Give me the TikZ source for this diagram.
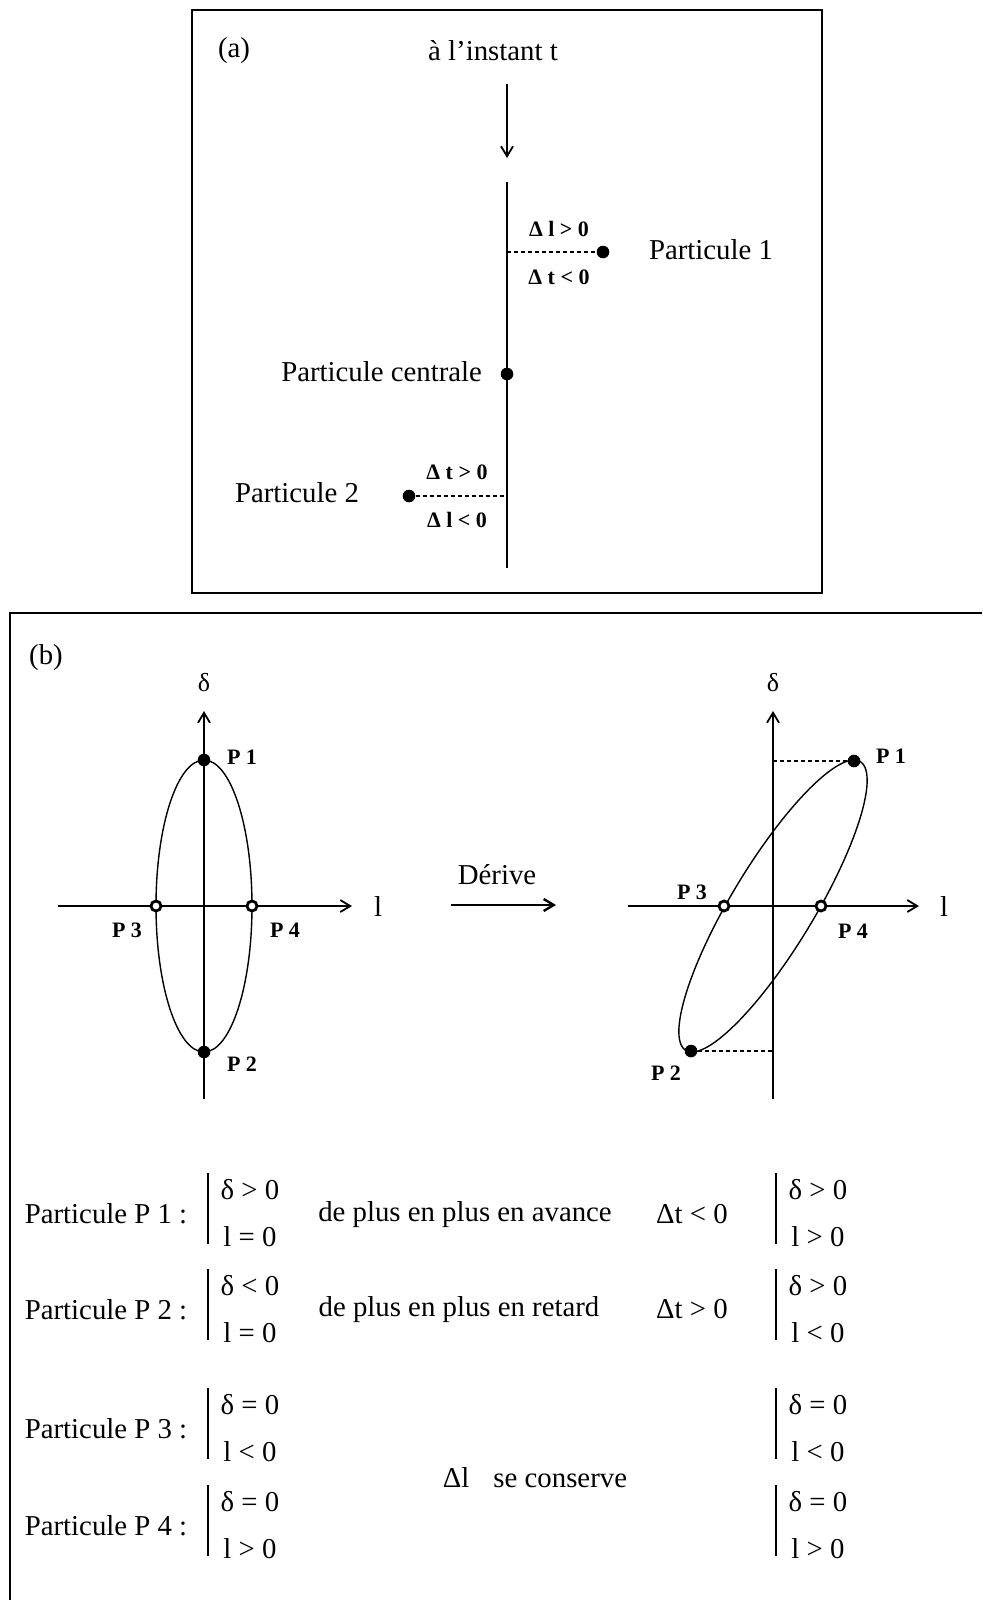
\documentclass[tikz,border=0pt]{standalone}
\usepackage{fontspec}
\setmainfont{Liberation Serif}
\usetikzlibrary{arrows.meta}

\begin{document}
\begin{tikzpicture}[x=0.5pt,y=-0.5pt, every node/.style={font=\fontsize{14.4}{17}\selectfont},
  lbl/.style={font=\fontsize{11}{13}\selectfont\bfseries},
  dot/.style={circle,fill=black,inner sep=0pt,minimum size=6.3pt},
  odot/.style={circle,draw=black,fill=white,line width=1.4pt,inner sep=0pt,minimum size=5pt},
  axe/.style={line width=0.9pt,-{Straight Barb[length=5pt,width=6pt]}},
  pointille/.style={dash pattern=on 2pt off 1.5pt,line width=0.7pt},
  barre/.style={line width=0.7pt}]
\useasboundingbox (0,0) rectangle (982,1600);

% (a) a l'instant t
\draw[line width=0.7pt] (192,10) rectangle (822,593);
\node (a) at (234,51) {(a)};
\node (instant) at (493,51) {à l'instant t};
\coordinate (ftop) at (507,84);
\coordinate (fbot) at (507,158);
\draw[axe] (ftop) -- (fbot);
\coordinate (ltop) at (507,182);
\coordinate (lbot) at (507,568);
\draw[line width=1pt] (ltop) -- (lbot);
\node[dot] (pc) at (507,374) {};
\node[anchor=east] (pcl) at (489,372) {Particule centrale};
\node[dot] (p1) at (603,252) {};
\draw[pointille] (p1 -| ltop) -- (p1);
\node[lbl] (dl1) at (559,229) {Δ l > 0};
\node[lbl] (dt1) at (559,277) {Δ t < 0};
\node (p1l) at (711,250) {Particule 1};
\node[dot] (p2) at (409,496) {};
\draw[pointille] (p2) -- (p2 -| ltop);
\node[lbl] (dt2) at (457,472) {Δ t > 0};
\node[lbl] (dl2) at (457,520) {Δ l < 0};
\node (p2l) at (297,493) {Particule 2};

% (b) ellipses
\draw[line width=0.7pt] (982,613) -- (10,613) -- (10,1600);
\node (b) at (46,658) {(b)};

% avant
\coordinate (o1) at (204,906);
\coordinate (v1b) at (204,1099);
\coordinate (v1t) at (204,711);
\coordinate (h1l) at (58,906);
\coordinate (h1r) at (352,906);
\draw[axe] (v1b) -- (v1t);
\draw[axe] (h1l) -- (h1r);
\node[font=\fontsize{13}{15}\selectfont] (d1) at (204,683) {δ};
\node (l1) at (378,906) {l};
\draw[line width=0.7pt] (o1) ellipse (24pt and 73pt);
\node[dot] (p1g) at (204,760) {};
\node[dot] (p2g) at (204,1052) {};
\node[odot] (p3g) at (156,906) {};
\node[odot] (p4g) at (252,906) {};
\node[lbl] (p1gl) at (242,757) {P 1};
\node[lbl] (p2gl) at (242,1064) {P 2};
\node[lbl] (p3gl) at (127,930) {P 3};
\node[lbl] (p4gl) at (285,930) {P 4};

% derive
\node (derive) at (497,875) {Dérive};
\coordinate (dg) at (451,905);
\coordinate (dd) at (556,905);
\draw[axe,line width=1.2pt] (dg) -- (dd);

% apres
\coordinate (o2) at (773,906);
\coordinate (v2b) at (773,1099);
\coordinate (v2t) at (773,711);
\coordinate (h2l) at (628,906);
\coordinate (h2r) at (919,906);
\draw[axe] (v2b) -- (v2t);
\draw[axe] (h2l) -- (h2r);
\node[font=\fontsize{13}{15}\selectfont] (d2) at (773,683) {δ};
\node (l2) at (944,906) {l};
\draw[line width=0.7pt] plot[variable=\t,domain=0:360,samples=121]
  ({773+48*cos(\t)+81*sin(\t)},{906-146*sin(\t)});
\node[dot] (p1d) at (854,761) {};
\node[dot] (p2d) at (691,1051) {};
\node[odot] (p3d) at (724,906) {};
\node[odot] (p4d) at (821,906) {};
\draw[pointille] (p1d -| v2t) -- (p1d);
\draw[pointille] (p2d) -- (p2d -| v2t);
\node[lbl] (p1dl) at (891,756) {P 1};
\node[lbl] (p2dl) at (666,1073) {P 2};
\node[lbl] (p3dl) at (692,892) {P 3};
\node[lbl] (p4dl) at (853,931) {P 4};

% tableau
\foreach \n/\yy/\la/\lb/\ra/\rb in {1/1214/δ > 0/l = 0/δ > 0/l > 0,
    2/1310/δ < 0/l = 0/δ > 0/l < 0, 3/1429/δ = 0/l < 0/δ = 0/l < 0,
    4/1526/δ = 0/l > 0/δ = 0/l > 0}{
  \node (part\n) at (106,\yy) {Particule P \n\ :};
  \coordinate (bgt\n) at (208,\yy-41);
  \coordinate (bgb\n) at (208,\yy+30);
  \coordinate (bdt\n) at (776,\yy-41);
  \coordinate (bdb\n) at (776,\yy+30);
  \draw[barre] (bgt\n) -- (bgb\n);
  \draw[barre] (bdt\n) -- (bdb\n);
  \node (ga\n) at (250,\yy-24) {\la};
  \node (gb\n) at (250,\yy+23) {\lb};
  \node (da\n) at (818,\yy-24) {\ra};
  \node (db\n) at (818,\yy+23) {\rb};
}
\node (avance) at (465,1215) {de plus en plus en avance};
\node (dtav) at (692,1214) {Δt < 0};
\node (retard) at (459,1310) {de plus en plus en retard};
\node (dtre) at (692,1309) {Δt > 0};
\node (conserve) at (535,1478) {Δl\hspace{12pt}se conserve};
\end{tikzpicture}
\end{document}
